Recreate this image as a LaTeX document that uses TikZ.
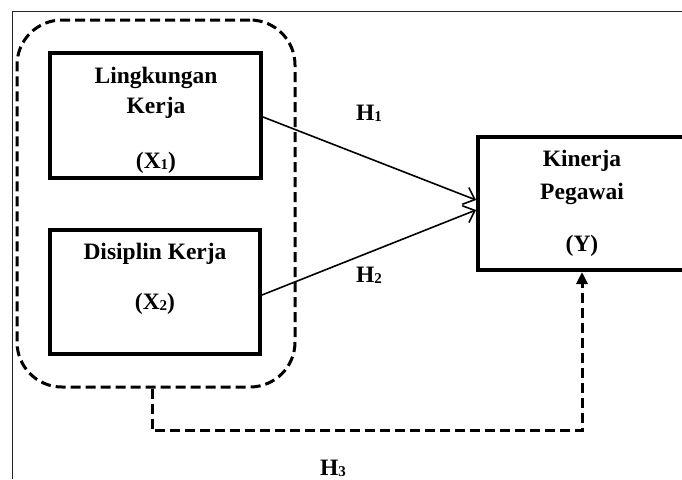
\documentclass[tikz,border=0pt]{standalone}
\usepackage{fontspec}
\setmainfont{Liberation Serif}
\usetikzlibrary{arrows.meta,calc}
\newcommand{\subdig}[1]{\raisebox{-1.5pt}{\fontsize{15}{15}\selectfont #1}}
\begin{document}
\begin{tikzpicture}[x=1pt,y=-1pt,
  box/.style={draw, line width=4pt, rectangle, inner sep=0pt},
  txt/.style={font=\bfseries\fontsize{23.5}{30}\selectfont, anchor=base, inner sep=0pt},
  dashline/.style={line width=3pt, dash pattern=on 10pt off 5pt},
  solidarrow/.style={line width=1.6pt, -{Straight Barb[length=10pt,width=18pt,line width=1.6pt]}}
]
\useasboundingbox (0,0) rectangle (682,479);
\draw[line width=1pt, black!85] (12,479) -- (12,11) -- (682,11);
% group
\node[draw, dashline, rounded corners=45pt, minimum width=278pt, minimum height=367pt] (grp) at (156,203.5) {};
% boxes
\node[box, minimum width=211pt, minimum height=125pt] (x1) at (155.5,115.5) {};
\node[box, minimum width=210pt, minimum height=124pt] (x2) at (155,292) {};
\node[box, minimum width=222pt, minimum height=133pt] (y) at (589,203.5) {};
% texts
\node[txt] (t1a) at (156,83) {Lingkungan};
\node[txt] (t1b) at (156,113) {Kerja};
\node[txt] (t1c) at (156,168) {(X\subdig{1})};
\node[txt] (t2a) at (155,259) {Disiplin Kerja};
\node[txt] (t2b) at (155,309) {(X\subdig{2})};
\node[txt] (tya) at (582,166) {Kinerja};
\node[txt] (tyb) at (582,199) {Pegawai};
\node[txt] (tyc) at (582,251) {(Y)};
% hypothesis labels
\node[txt] (h1) at (369,120) {H\subdig{1}};
\node[txt] (h2) at (369,282) {H\subdig{2}};
\node[txt] (h3) at (333,475) {H\subdig{3}};
% arrows
\draw[solidarrow] ([yshift=-1.5pt]x1.east) -- ([yshift=3.5pt]y.west);
\draw[solidarrow] ([yshift=-3pt]x2.east) -- ([yshift=-6.5pt]y.west);
\draw[dashline, -{Triangle[width=11pt,length=12pt]}] ([xshift=-4pt]grp.south) -- ++(0,42) -| ([xshift=-7pt]y.south);
\end{tikzpicture}
\end{document}
